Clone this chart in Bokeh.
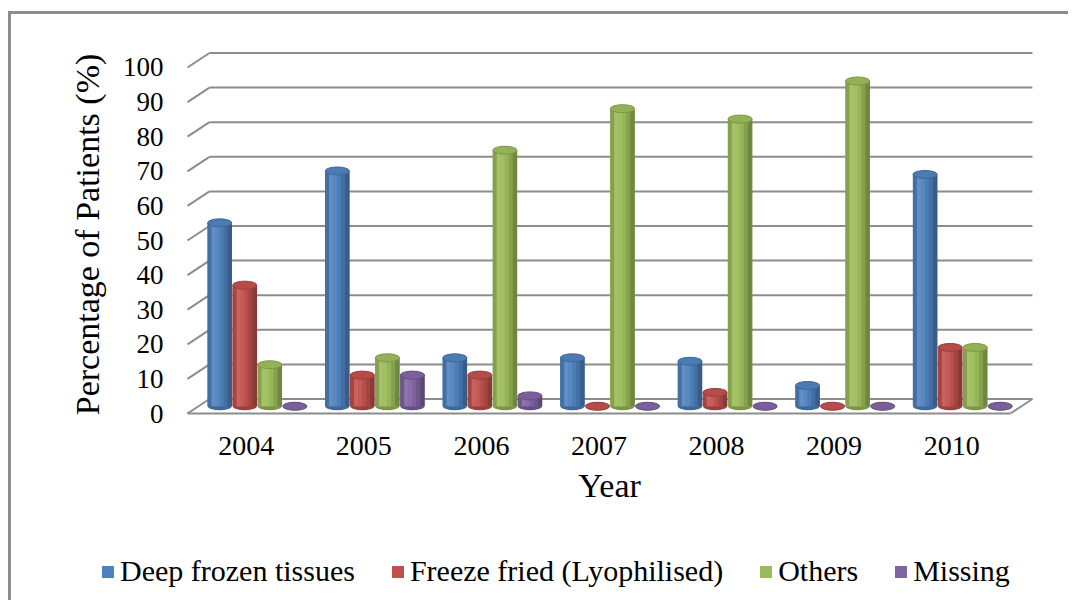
from bokeh.plotting import figure
from bokeh.models import Range1d, FixedTicker, Legend, LegendItem
from bokeh.layouts import column
from bokeh.embed import file_html
from bokeh.resources import INLINE

# ---- data ----
years = ["2004", "2005", "2006", "2007", "2008", "2009", "2010"]
series_names = ["Deep frozen tissues", "Freeze fried (Lyophilised)", "Others", "Missing"]
deep_frozen = [53, 68, 14, 14, 13, 6, 67]
freeze_dried = [35, 9, 9, 0, 4, 0, 17]
others = [12, 14, 74, 86, 83, 94, 17]
missing = [0, 9, 3, 0, 0, 0, 0]
y_ticks = [0, 10, 20, 30, 40, 50, 60, 70, 80, 90, 100]
colors = ["#4F81BD", "#C0504D", "#9BBB59", "#8064A2"]

# ---- styling constants ----
DX = 0.187      # 3D depth offset (x, category units)
DY = 4.19       # 3D depth offset (y, value units)
BW = 0.205      # bar width
STEP = 0.213    # bar spacing inside a group
GRID = "#8c8c8c"
FONT = "Liberation Serif"


def shade(hex_color, f):
    h = hex_color.lstrip("#")
    rgb = [int(h[i:i + 2], 16) for i in (0, 2, 4)]
    out = []
    for c in rgb:
        if f >= 1:
            c = c + (255 - c) * (f - 1)
        else:
            c = c * f
        out.append(max(0, min(255, int(round(c)))))
    return "#%02x%02x%02x" % tuple(out)


n = len(years)
all_series = [deep_frozen, freeze_dried, others, missing]

p = figure(width=1057, height=510,
           x_range=Range1d(-0.017, 7.196), y_range=Range1d(-2.02, 105.49),
           min_border_left=174, min_border_right=35, min_border_top=34, min_border_bottom=104,
           output_backend="svg", toolbar_location=None)
p.frame_align = False
p.outline_line_color = None
p.xgrid.visible = False
p.ygrid.visible = False
p.background_fill_color = "white"
p.border_fill_color = "white"

# ---- back wall grid lines, side stubs, floor ----
p.segment(x0=[DX] * len(y_ticks), y0=[t + DY for t in y_ticks],
          x1=[n + DX] * len(y_ticks), y1=[t + DY for t in y_ticks],
          line_color=GRID, line_width=2)
p.segment(x0=[0] * len(y_ticks), y0=y_ticks,
          x1=[DX] * len(y_ticks), y1=[t + DY for t in y_ticks],
          line_color=GRID, line_width=2)
p.segment(x0=[0, n], y0=[0, 0], x1=[n, n + DX], y1=[0, DY],
          line_color=GRID, line_width=2)

# ---- cylinders ----
strip_f = [0.86, 1.10, 1.06, 0.97, 0.86, 0.72]
ns = len(strip_f)
base = DY / 2
for k, (vals, col) in enumerate(zip(all_series, colors)):
    xs = [i + 0.5 + DX / 2 + (k - 1.5) * STEP for i in range(n)]
    tops = [v + base for v in vals]
    p.ellipse(x=xs, y=[base] * n, width=BW, height=8, height_units="screen",
              fill_color=shade(col, 0.8), line_color=None)
    p.vbar(x=xs, width=BW, top=tops, bottom=base, fill_color=col, line_color=None)
    for j, f in enumerate(strip_f):
        off = (j - (ns - 1) / 2) * BW / ns
        p.vbar(x=[x + off for x in xs], width=BW / ns * 1.12, top=tops, bottom=base,
               fill_color=shade(col, f), line_color=None)
    p.ellipse(x=xs, y=tops, width=BW, height=8, height_units="screen",
              fill_color=shade(col, 0.95), line_color=shade(col, 0.8), line_width=1)

# ---- axes ----
p.yaxis.ticker = FixedTicker(ticks=y_ticks)
p.yaxis.axis_line_color = None
p.yaxis.major_tick_line_color = None
p.yaxis.minor_tick_line_color = None
p.yaxis.major_label_text_font = FONT
p.yaxis.major_label_text_font_size = "27px"
p.yaxis.major_label_text_color = "black"
p.yaxis.major_label_standoff = 16
p.yaxis.axis_label = "Percentage of Patients (%)"
p.yaxis.axis_label_text_font = FONT
p.yaxis.axis_label_text_font_size = "34px"
p.yaxis.axis_label_text_font_style = "normal"
p.yaxis.axis_label_text_color = "black"
p.yaxis.axis_label_standoff = 14

xt = [i + 0.5 for i in range(n)]
p.xaxis.ticker = FixedTicker(ticks=xt)
p.xaxis.major_label_overrides = {t: y for t, y in zip(xt, years)}
p.xaxis.axis_line_color = None
p.xaxis.major_tick_line_color = None
p.xaxis.minor_tick_line_color = None
p.xaxis.major_label_text_font = FONT
p.xaxis.major_label_text_font_size = "28px"
p.xaxis.major_label_text_color = "black"
p.xaxis.major_label_standoff = 10
p.xaxis.axis_label = "Year"
p.xaxis.axis_label_text_font = FONT
p.xaxis.axis_label_text_font_size = "34px"
p.xaxis.axis_label_text_font_style = "normal"
p.xaxis.axis_label_text_color = "black"
p.xaxis.axis_label_standoff = 9

# ---- legend strip (separate figure, full-width frame) ----
q = figure(width=1057, height=76, x_range=Range1d(0, 1), y_range=Range1d(0, 1),
           min_border_left=0, min_border_right=0, min_border_top=0, min_border_bottom=0,
           x_axis_type=None, y_axis_type=None,
           output_backend="svg", toolbar_location=None)
q.frame_align = False
q.outline_line_color = None
q.xgrid.visible = False
q.ygrid.visible = False
q.border_fill_color = "white"
items = []
for name, vals, col in zip(series_names, all_series, colors):
    r = q.vbar(x=list(range(n)), top=vals, width=0.1, fill_color=col, line_color=None,
               visible=False)
    items.append(LegendItem(label=name, renderers=[r]))
legend = Legend(items=items, orientation="horizontal", location=(89, 12),
                glyph_width=15, glyph_height=15, label_text_font=FONT,
                label_text_font_size="30px", label_text_color="black",
                spacing=35, label_standoff=5, padding=0, margin=0,
                inactive_fill_alpha=0, border_line_color=None, background_fill_alpha=0)
q.add_layout(legend)

lay = column(p, q, spacing=0)
lay.styles = {"margin-left": "8px", "margin-top": "11px",
              "border-left": "3px solid #8c8c8c", "border-top": "3px solid #8c8c8c"}

open("out.html", "w").write(file_html(lay, INLINE))
